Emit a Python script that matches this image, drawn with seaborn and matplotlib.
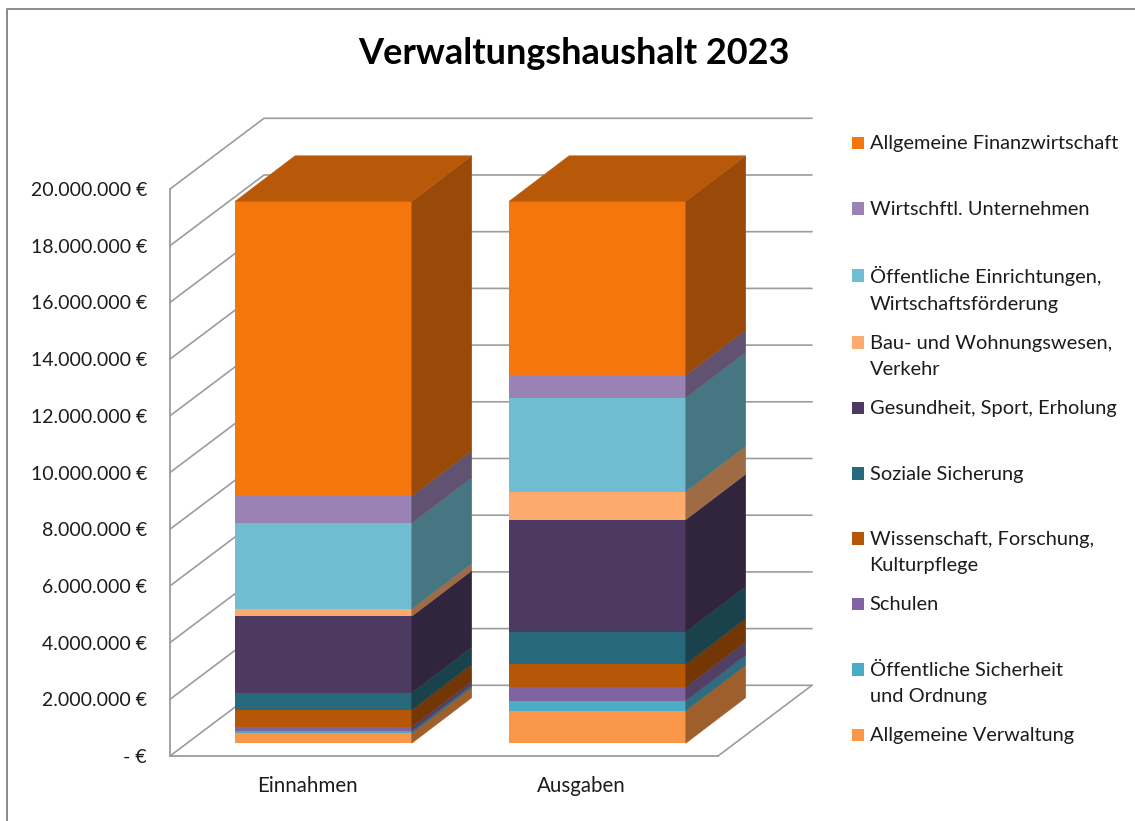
import matplotlib
matplotlib.use("Agg")
import matplotlib.pyplot as plt
from matplotlib.lines import Line2D
from matplotlib.patches import Patch
from matplotlib.ticker import FuncFormatter
import seaborn as sns
import numpy as np
import pandas as pd

sns.set_theme(style="white")
plt.rcParams['font.family'] = ['Lato', 'DejaVu Sans']

# ---- data (stack order bottom to top) ----
categories = ["Einnahmen", "Ausgaben"]
series_names = [
    "Allgemeine Verwaltung",
    "Öffentliche Sicherheit\nund Ordnung",
    "Schulen",
    "Wissenschaft, Forschung,\nKulturpflege",
    "Soziale Sicherung",
    "Gesundheit, Sport, Erholung",
    "Bau- und Wohnungswesen,\nVerkehr",
    "Öffentliche Einrichtungen,\nWirtschaftsförderung",
    "Wirtschftl. Unternehmen",
    "Allgemeine Finanzwirtschaft",
]
einnahmen = [353000, 81000, 141000, 600000, 610000, 2695000, 257000, 3030000, 950000, 10400000]
ausgaben = [1150000, 353000, 473000, 811000, 1139000, 3960000, 988000, 3316000, 790000, 6137000]
colors = ["#FA9648", "#4BACC6", "#8064A2", "#B65708", "#27687A",
          "#4D3A62", "#FCAA6E", "#70BCD0", "#9B82B4", "#F5760C"]
y_ticks = [0, 2e6, 4e6, 6e6, 8e6, 10e6, 12e6, 14e6, 16e6, 18e6, 20e6]

# ---- layout helpers (pixels -> figure fractions) ----
W, H = 1135, 821
GRAY = "#9C9C9C"
TXT = "#1c1c1c"
fig = plt.figure(figsize=(W / 100, H / 100), dpi=100, facecolor="white")

def axes_rect(x0, x1, ybase, ytop):
    return [x0 / W, 1 - ybase / H, (x1 - x0) / W, (ybase - ytop) / H]

# frame plane (front of the chart box)
ax = fig.add_axes(axes_rect(170, 718, 756, 189))
# bar plane (front of the bars, pushed into the box)
ax_b = fig.add_axes(axes_rect(186.4, 734.4, 743.3, 176.3))
ax_b.patch.set_alpha(0)

df = pd.DataFrame({
    "series": np.repeat(series_names, 2),
    "category": categories * len(series_names),
    "value": np.ravel(np.column_stack([einnahmen, ausgaben])),
})
df["bottom"] = df.groupby("category", sort=False)["value"].cumsum() - df["value"]

YMAX = y_ticks[-1]
px_x = 274.0
px_y = 567.0 / YMAX

# frame
ax.set_xlim(-0.5, 1.5)
ax.set_ylim(0, YMAX)
ax.set_xticks(range(len(categories)))
ax.set_xticklabels(categories, fontsize=14.8, color=TXT)
ax.set_yticks(y_ticks)
ax.yaxis.set_major_formatter(FuncFormatter(
    lambda v, _: "- €" if v == 0 else f"{int(v):,}".replace(",", ".") + " €"))
ax.tick_params(axis="y", length=0, pad=16.5, labelsize=14, labelcolor=TXT)
ax.tick_params(axis="x", length=0, pad=14.5)
for s in ("top", "right"):
    ax.spines[s].set_visible(False)
for s in ("left", "bottom"):
    ax.spines[s].set_color(GRAY)
    ax.spines[s].set_linewidth(1.3)
wall_dx = 94 / px_x
wall_dy = 70.7 / px_y
for t in y_ticks:
    ax.plot([-0.5, -0.5 + wall_dx, 1.5 + wall_dx], [t, t + wall_dy, t + wall_dy],
            color=GRAY, lw=1.2, clip_on=False, solid_joinstyle="miter")
ax.plot([1.5, 1.5 + wall_dx], [0, wall_dy], color=GRAY, lw=1.2, clip_on=False)

# bars
for name, col in zip(series_names, colors):
    sub = df[df["series"] == name]
    sns.barplot(data=sub, x="category", y="value", order=categories, bottom=sub["bottom"].to_numpy(),
                color=col, saturation=1, width=0.645, ax=ax_b, linewidth=0, errorbar=None)
ax_b.set_xlim(-0.5, 1.5)
ax_b.set_ylim(0, YMAX)
ax_b.axis("off")

half = 0.645 / 2
ddx = 60 / px_x
ddy = 45.6 / px_y

def shade(hexcol, f):
    r, g, b = matplotlib.colors.to_rgb(hexcol)
    return (r * f, g * f, b * f)

for i, cat in enumerate(categories):
    xr = i + half
    sub = df[df["category"] == cat]
    for _, row in sub.iterrows():
        col = colors[series_names.index(row["series"])]
        y0, y1 = row["bottom"], row["bottom"] + row["value"]
        ax_b.fill([xr, xr + ddx, xr + ddx, xr], [y0, y0 + ddy, y1 + ddy, y1],
                  color=shade(col, 0.63), lw=0.3, clip_on=False)
    top = sub["value"].sum()
    ax_b.fill([i - half, i - half + ddx, xr + ddx, xr], [top, top + ddy, top + ddy, top],
              color=shade(colors[-1], 0.75), lw=0.3, clip_on=False)

# title
fig.text(574 / W, 1 - 53 / H, "Verwaltungshaushalt 2023", ha="center", va="center",
         fontsize=26, fontweight="bold", color="black")

# legend: every entry gets two lines so first lines are evenly spaced
handles = [Patch(facecolor=c, edgecolor="none") for c in colors][::-1]
labels = [(n if "\n" in n else n + "\n ") for n in series_names][::-1]
leg = fig.legend(handles, labels, loc="upper left", bbox_to_anchor=(852 / W, 1 - 135.5 / H),
                 frameon=False, fontsize=14.4, labelspacing=1.115, handlelength=0.6, handleheight=0.6,
                 handletextpad=0.28, borderaxespad=0, borderpad=0, labelcolor=TXT)
for t in leg.get_texts():
    t.set_linespacing(1.65)
for p in leg.get_patches():
    p.set_y(p.get_y() + 10.0)

# outer chart border (left and top edges)
fig.add_artist(Line2D([7 / W, 7 / W, 1], [0, 1 - 9 / H, 1 - 9 / H], color="#8a8a8a", lw=1.4))

fig.savefig("out.png", dpi=100)
